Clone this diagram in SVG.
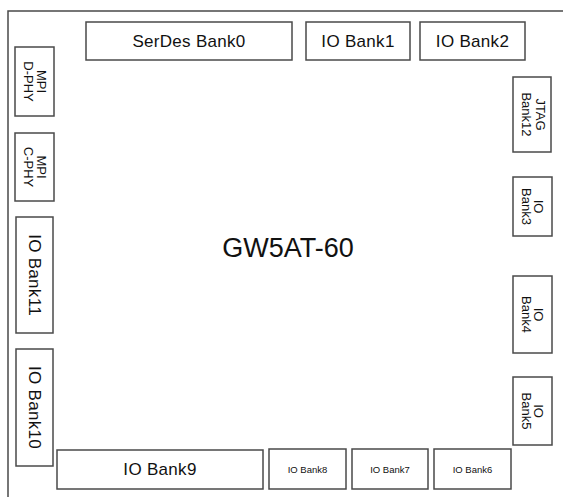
<svg xmlns="http://www.w3.org/2000/svg" width="563" height="497" viewBox="0 0 563 497">
<style>
.b{fill:#fff;stroke:#4a4a4a;stroke-width:1.5}
.o{fill:none;stroke:#4a4a4a;stroke-width:1.5}
text{font-family:"Liberation Sans",Arial,sans-serif;fill:#111;text-anchor:middle;dominant-baseline:central}
.l{font-size:17px;letter-spacing:0.3px}
.m{font-size:13px}
.s{font-size:9.5px}
.t{font-size:27px}
</style>
<rect width="563" height="497" fill="#fff"/>
<g id="chip">
<path class="o" d="M8 497V11H563"/>
<text class="t" x="288" y="248">GW5AT-60</text>
</g>
<g id="serdes0"><rect class="b" x="86" y="22" width="206" height="38"/><text class="l" x="189" y="41">SerDes Bank0</text></g>
<g id="bank1"><rect class="b" x="306" y="22" width="104" height="38"/><text class="l" x="358" y="41">IO Bank1</text></g>
<g id="bank2"><rect class="b" x="420" y="22" width="105" height="38"/><text class="l" x="472.5" y="41">IO Bank2</text></g>
<g id="jtag12"><rect class="b" x="513" y="77" width="38" height="75"/><g transform="translate(532,114.5) rotate(90)"><text class="m" x="0" y="-8">JTAG</text><text class="m" x="0" y="6">Bank12</text></g></g>
<g id="bank3"><rect class="b" x="513" y="177" width="39" height="59"/><g transform="translate(532.5,206.5) rotate(90)"><text class="m" x="0" y="-6">IO</text><text class="m" x="0" y="6">Bank3</text></g></g>
<g id="bank4"><rect class="b" x="513" y="276" width="39" height="77"/><g transform="translate(532.5,314.5) rotate(90)"><text class="m" x="0" y="-6">IO</text><text class="m" x="0" y="6">Bank4</text></g></g>
<g id="bank5"><rect class="b" x="513" y="377" width="39" height="68"/><g transform="translate(532.5,411) rotate(90)"><text class="m" x="0" y="-6">IO</text><text class="m" x="0" y="6">Bank5</text></g></g>
<g id="bank6"><rect class="b" x="434" y="449" width="77" height="40"/><text class="s" x="472.5" y="469">IO Bank6</text></g>
<g id="bank7"><rect class="b" x="352" y="449" width="76" height="40"/><text class="s" x="390" y="469">IO Bank7</text></g>
<g id="bank8"><rect class="b" x="269" y="449" width="77" height="40"/><text class="s" x="307.5" y="469">IO Bank8</text></g>
<g id="bank9"><rect class="b" x="57" y="450" width="206" height="39"/><text class="l" x="160" y="469.5">IO Bank9</text></g>
<g id="bank10"><rect class="b" x="16" y="349" width="37" height="117"/><text class="l" transform="translate(34.5,407.5) rotate(90)" x="0" y="0">IO Bank10</text></g>
<g id="bank11"><rect class="b" x="16" y="217" width="37" height="116"/><text class="l" transform="translate(34.5,275) rotate(90)" x="0" y="0">IO Bank11</text></g>
<g id="mpi-cphy"><rect class="b" x="15" y="133" width="39" height="68"/><g transform="translate(34.5,167) rotate(90)"><text class="m" x="0" y="-7">MPI</text><text class="m" x="0" y="6">C-PHY</text></g></g>
<g id="mpi-dphy"><rect class="b" x="15" y="47" width="39" height="69"/><g transform="translate(34.5,81.5) rotate(90)"><text class="m" x="0" y="-7">MPI</text><text class="m" x="0" y="6">D-PHY</text></g></g>
<g id="connectors"></g>
</svg>
